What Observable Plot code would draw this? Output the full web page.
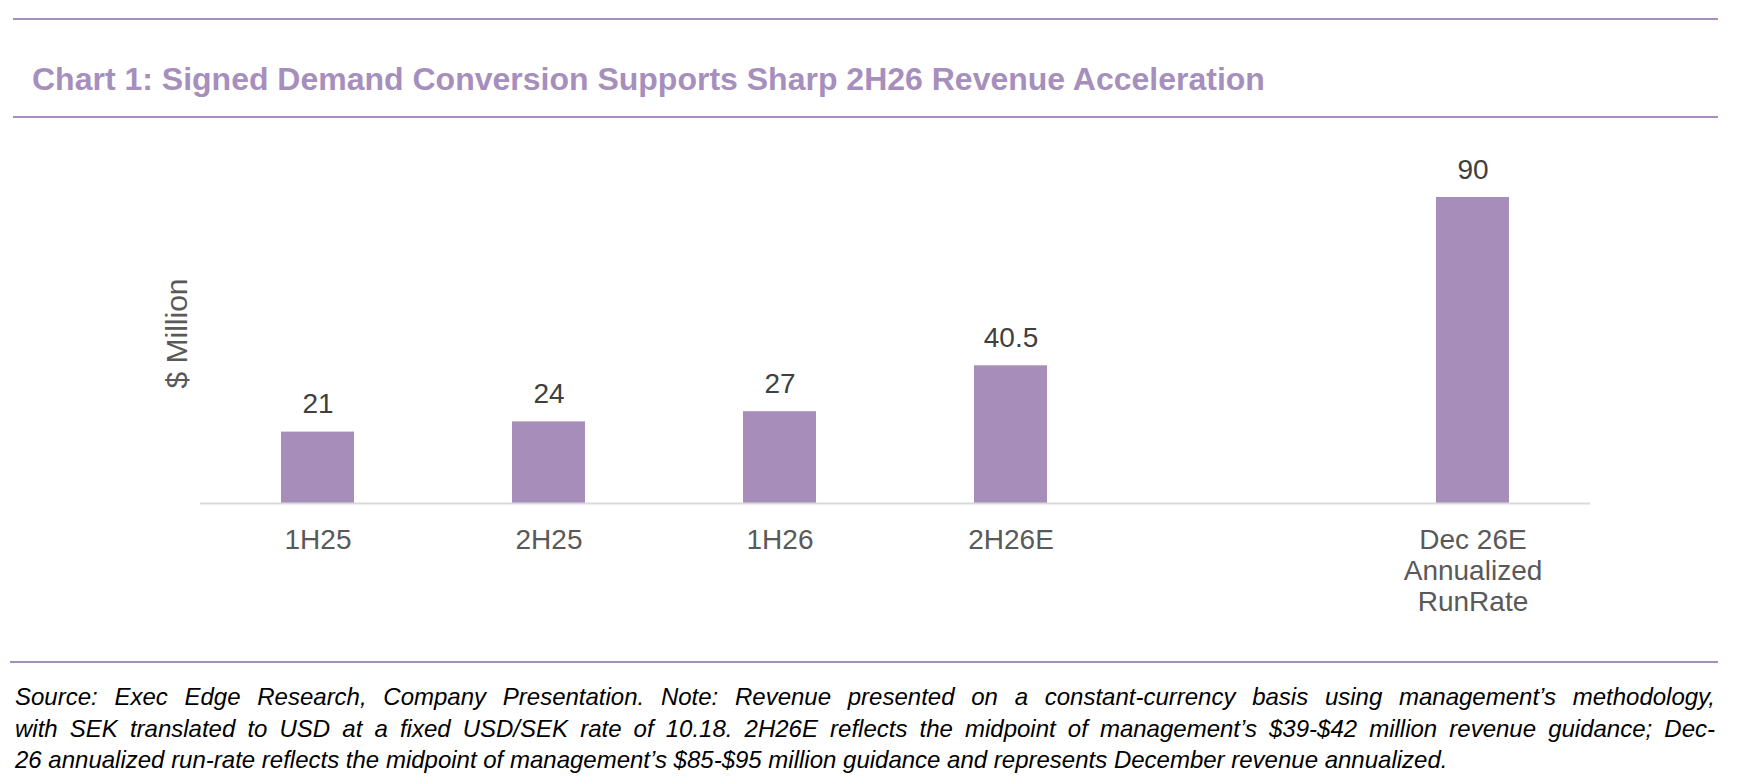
<!DOCTYPE html>
<html>
<head>
<meta charset="utf-8">
<script src="https://cdn.jsdelivr.net/npm/d3@7"></script>
<script src="https://cdn.jsdelivr.net/npm/@observablehq/plot@0.6"></script>
<style>
  html, body { margin: 0; padding: 0; background: #ffffff; }
  body { width: 1744px; height: 776px; position: relative; overflow: hidden; font-family: "Liberation Sans", Arial, sans-serif; }
  .rule { position: absolute; height: 2px; background: #a68fbd; }
  #title { position: absolute; left: 32px; top: 63px; font-size: 32px; line-height: 32px; font-weight: bold; color: #a68fbd; white-space: nowrap; }
  #chart { position: absolute; left: 0; top: 120px; }
  #note { position: absolute; left: 15px; top: 681px; width: 1700px; font-size: 24px; line-height: 31.5px; font-style: italic; color: #000; }
  #note .j { text-align: justify; text-align-last: justify; }
</style>
</head>
<body>
<div class="rule" style="left:13px; width:1705px; top:18px;"></div>
<div id="title">Chart 1: Signed Demand Conversion Supports Sharp 2H26 Revenue Acceleration</div>
<div class="rule" style="left:13px; width:1705px; top:116px;"></div>
<div id="chart"></div>
<div class="rule" style="left:10px; width:1708px; top:661px;"></div>
<div id="note">
  <div class="j">Source: Exec Edge Research, Company Presentation. Note: Revenue presented on a constant-currency basis using management’s methodology,</div>
  <div class="j">with SEK translated to USD at a fixed USD/SEK rate of 10.18. 2H26E reflects the midpoint of management’s $39-$42 million revenue guidance; Dec-</div>
  <div>26 annualized run-rate reflects the midpoint of management’s $85-$95 million guidance and represents December revenue annualized.</div>
</div>
<script>
// ---- data ----
const periods = ["1H25", "2H25", "1H26", "2H26E", "Dec 26E\nAnnualized\nRunRate"];
const revenue = [21, 24, 27, 40.5, 90];
const valueLabels = ["21", "24", "27", "40.5", "90"];
const xSlots = ["1H25", "2H25", "1H26", "2H26E", " ", "Dec 26E\nAnnualized\nRunRate"];
const yLabel = "$ Million";

const data = periods.map((p, i) => ({period: p, revenue: revenue[i], label: valueLabels[i]}));

const chart = Plot.plot({
  width: 1744,
  height: 540,
  marginLeft: 200,
  marginRight: 154,
  marginTop: 43,
  marginBottom: 157,
  style: {fontFamily: "'Liberation Sans', Arial, sans-serif", background: "transparent"},
  x: {domain: xSlots, paddingInner: 0.685, paddingOuter: 0.3425, axis: null, label: null},
  y: {domain: [0, 100], axis: null, label: null},
  marks: [
    Plot.barY(data, {x: "period", y: "revenue", fill: "#a78dba"}),
    Plot.ruleY([0], {stroke: "#d9d9d9", strokeWidth: 2}),
    Plot.text(data, {x: "period", y: "revenue", text: "label", lineAnchor: "bottom", dy: -19, fontSize: 28, fill: "#404040"}),
    Plot.axisX({domain: xSlots, label: null, tickSize: 0, tickPadding: 24, fontSize: 28, lineHeight: 1.1, fill: "#595959", textOverflow: null}),
    Plot.text([yLabel], {frameAnchor: "left", dx: -23, rotate: -90, fontSize: 30, fill: "#595959", textAnchor: "middle", lineAnchor: "middle"})
  ]
});
document.getElementById("chart").appendChild(chart);
</script>
</body>
</html>
